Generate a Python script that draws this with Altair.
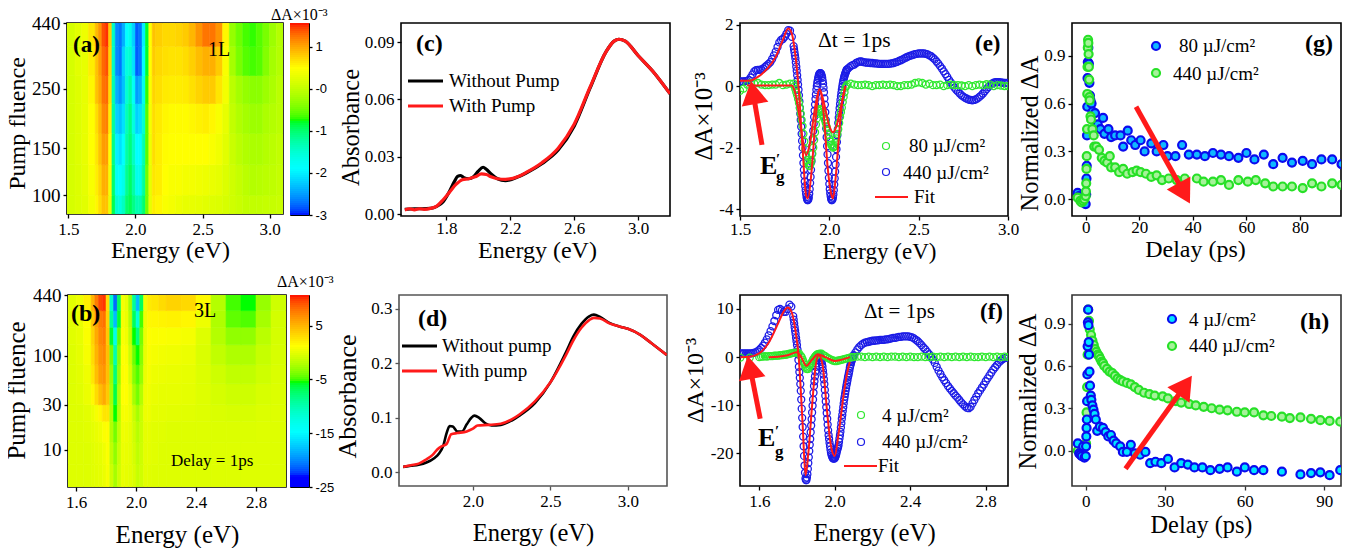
import altair as alt
import numpy as np
import pandas as pd

SERIF = "Liberation Serif"
SANS = "Liberation Sans"
RED = "#ff1a1a"
BLUE = "#1c1ce6"
GREEN = "#2fe82f"

# ---------- (a) heat map ----------
a_E = [1.49,1.55,1.6,1.65,1.7,1.725,1.75,1.775,1.8,1.825,1.85,1.875,1.9,1.925,1.95,1.975,2.0,2.025,2.05,2.075,2.1,2.125,2.15,2.2,2.25,2.3,2.35,2.4,2.45,2.5,2.55,2.6,2.65,2.7,2.75,2.8,2.85,2.9,2.95,3.0,3.05,3.1]
a_F = [85,100,130,170,220,280,360,440]
a_Z = [
 [.15,.2,.25,.4,.55,.7,.85,.85,.3,-.9,-1.5,-1.6,-1.4,-1.0,-.9,-1.1,-1.3,-1.3,-1.0,-.5,.3,.6,.55,.45,.4,.35,.3,.3,.28,.25,.22,.2,.15,.1,.05,0,0,0,.02,.03,.05],
 [.15,.2,.28,.45,.6,.75,.95,.95,.4,-1.0,-1.8,-1.9,-1.7,-1.15,-.95,-1.25,-1.7,-1.7,-1.2,-.5,.3,.65,.6,.5,.45,.45,.4,.4,.38,.35,.32,.28,.2,.1,.02,-.05,-.1,-.08,-.05,-.02,.02],
 [.15,.22,.3,.5,.65,.85,1.05,1.05,.5,-1.1,-2.0,-2.1,-1.9,-1.25,-1.05,-1.4,-1.9,-1.9,-1.3,-.6,.35,.7,.6,.52,.5,.5,.5,.5,.5,.5,.45,.38,.25,.05,-.05,-.12,-.15,-.15,-.1,-.05,0],
 [.15,.22,.3,.5,.7,.9,1.15,1.2,.6,-1.2,-2.2,-2.3,-2.1,-1.35,-1.1,-1.6,-2.2,-2.1,-1.5,-.6,.4,.7,.62,.55,.52,.52,.52,.55,.58,.6,.55,.45,.3,.0,-.12,-.2,-.25,-.25,-.15,-.1,-.05],
 [.15,.22,.3,.55,.85,1.0,1.25,1.3,.7,-1.3,-2.4,-2.55,-2.3,-1.5,-1.25,-1.8,-2.5,-2.4,-1.7,-.7,.45,.75,.68,.62,.6,.6,.62,.68,.75,.8,.8,.65,.4,-.05,-.2,-.3,-.35,-.35,-.25,-.15,-.05],
 [.15,.25,.3,.6,.85,1.05,1.3,1.4,.75,-1.4,-2.6,-2.7,-2.2,-1.6,-1.5,-2.1,-2.8,-2.7,-1.9,-.8,.5,.8,.72,.68,.66,.66,.7,.78,.88,.95,.95,.8,.45,-.2,-.45,-.6,-.65,-.6,-.4,-.2,-.1],
 [.15,.25,.35,.65,.9,1.1,1.4,1.5,.8,-1.4,-2.6,-2.7,-2.4,-1.9,-1.7,-2.2,-2.8,-2.7,-2.0,-.8,.5,.85,.78,.72,.72,.75,.8,.92,1.1,1.25,1.25,1.1,.55,-.3,-.5,-.65,-.7,-.6,-.45,-.25,-.1],
]
a_ramp_d = [-3,-1.9,-.75,.5,1.57]
a_ramp_c = ["#0000ff","#00ffff","#00ff00","#ffff00","#ff0000"]

# ---------- (b) heat map ----------
b_E = [1.546,1.6,1.65,1.7,1.725,1.75,1.775,1.8,1.825,1.85,1.875,1.9,1.925,1.95,1.975,2.0,2.025,2.05,2.075,2.1,2.15,2.2,2.3,2.4,2.5,2.6,2.7,2.8,2.9,3.0]
b_F = [4,7,12,20,30,50,80,130,200,300,440]
b_Z = [
 [-.3,-.3,-.3,-.2,-.1,0,.3,.8,-1,-2.5,-1,.2,.1,-.1,-.5,-1.3,-.9,-.1,-.2,-.3,-.3,-.3,-.3,-.3,-.3,-.3,-.3,-.3,-.3],
 [-.3,-.3,-.3,-.2,0,.1,.5,1,-1.5,-3.2,-1.2,.3,.2,0,-.7,-1.6,-1,0,.0,-.2,-.3,-.3,-.3,-.3,-.3,-.3,-.3,-.3,-.3],
 [-.3,-.3,-.2,0,.2,.5,1,1.3,-2,-4,-1.5,.5,.4,.1,-.9,-1.9,-1.1,.1,.1,-.2,-.2,-.3,-.3,-.3,-.4,-.4,-.4,-.3,-.3],
 [-.3,-.3,-.1,.3,.8,1.5,2.5,2.5,-2,-5.5,-2,.8,.8,.4,-1.2,-2.5,-1.2,.4,.4,0,0,-.1,-.2,-.3,-.5,-.6,-.6,-.4,-.3],
 [-.3,-.2,.3,1.5,3,4.5,5.5,4,-2.5,-6.5,-2.2,1.2,1.2,.3,-2.5,-4,-2,.5,.6,.2,.1,.1,0,-.3,-.7,-1,-1,-.6,-.4],
 [-.3,-.1,.5,2.5,4.5,6,6.5,4.5,-3,-8,-3,1.3,1.2,-.5,-3.5,-4.8,-3,.3,.8,.4,.3,.2,.1,-.4,-1,-1.5,-1.5,-1,-.5],
 [-.3,0,.8,3,5,6.5,7,4.5,-4,-10,-3.5,1.2,1,-1,-4.2,-5.5,-3.5,.2,1,.7,.6,.5,.3,-.5,-1.5,-2.2,-2.2,-1.3,-.6],
 [-.2,.1,1,3.5,5.5,7,7.5,4,-6,-13,-4.5,1,.6,-1.5,-5.5,-8,-4,.2,1.2,1,1,.9,.7,-.3,-2,-3.2,-3.2,-1.8,-.7],
 [-.2,.2,1.2,4,6,7.5,8,3.5,-9,-18,-6,.8,.3,-2,-7,-12,-5,.4,1.5,1.6,1.8,1.9,1.6,.4,-2.2,-4.5,-4.8,-2.5,-.8],
 [-.1,.4,2,5,7.5,9.5,10,3,-11,-21,-7,.8,.2,-2.5,-9,-18,-7,.6,2.2,2.5,3,3.5,3.2,1.5,-2,-5,-5.5,-3,-1],
]
b_ramp_d = [-25,-23,-14.8,-5.5,1.2,10.7]
b_ramp_c = ["#0000ff","#0000ff","#00ffff","#00ff00","#ffff00","#ff0000"]

# ---------- (c) ----------
c_E_k = [1.54,1.6,1.65,1.7,1.74,1.78,1.82,1.85,1.87,1.89,1.91,1.94,1.97,2.0,2.03,2.05,2.08,2.12,2.17,2.25,2.3,2.4,2.5,2.6,2.7,2.8,2.85,2.88,2.92,3.0,3.1,3.2]
c_A_k = [.0025,.0028,.0028,.003,.004,.0065,.012,.017,.0197,.0202,.019,.0185,.0195,.0225,.0245,.0235,.021,.0185,.0175,.0195,.0215,.0265,.0335,.046,.066,.085,.0905,.0915,.0905,.083,.074,.063]
c_E_r = [1.54,1.57,1.6,1.63,1.66,1.7,1.74,1.78,1.82,1.86,1.9,1.94,1.98,2.02,2.05,2.08,2.12,2.17,2.25,2.3,2.4,2.5,2.6,2.7,2.8,2.85,2.88,2.92,3.0,3.1,3.2]
c_A_r = [.0022,.0028,.0022,.0028,.0025,.003,.0042,.0075,.0115,.0155,.018,.0185,.0195,.021,.0207,.0195,.0185,.0182,.0197,.0218,.027,.0345,.047,.0665,.085,.0905,.0915,.0905,.083,.074,.063]

# ---------- (d) ----------
d_E_k = [1.55,1.6,1.65,1.7,1.75,1.78,1.81,1.83,1.85,1.87,1.9,1.93,1.96,1.99,2.01,2.04,2.08,2.12,2.18,2.25,2.3,2.4,2.5,2.6,2.65,2.7,2.75,2.78,2.82,2.88,2.95,3.0,3.08,3.15,3.25]
d_A_k = [.01,.012,.014,.018,.026,.034,.05,.072,.085,.084,.075,.075,.088,.1,.104,.1,.09,.086,.087,.095,.104,.127,.165,.22,.25,.272,.286,.289,.285,.274,.267,.263,.252,.237,.215]
d_E_r = [1.55,1.6,1.65,1.7,1.74,1.77,1.8,1.83,1.86,1.9,1.96,2.0,2.03,2.1,2.18,2.25,2.3,2.4,2.5,2.6,2.65,2.7,2.75,2.78,2.82,2.88,2.95,3.0,3.08,3.15,3.25]
d_A_r = [.01,.013,.016,.024,.032,.042,.048,.052,.07,.072,.075,.08,.086,.087,.089,.097,.106,.13,.165,.215,.243,.265,.279,.283,.282,.273,.267,.263,.252,.237,.215]

# ---------- (e) ----------
e_V_b1 = [.15,.15,.15,.16,.17,.2,.28,.38,.48,.52,
 .53,.53,.54,.57,.62,.67,.72,.78,.88,1.0,
 1.12,1.27,1.42,1.5,1.53,1.6,1.7,1.82,1.8,1.6]
e_V_b2 = [1.3,1.2,1.1,1.0,.9,.77,.63,.5,.35,.2,.05,-.12,-.3,-.5,-.7,-.9,-1.1,-1.32,-1.55,-1.78,
 -2.0,-2.25,-2.5,-2.72,-2.9,-3.1,-3.25,-3.38,-3.5,-3.6,-3.66,-3.7,-3.7,-3.68,-3.62,-3.5,-3.35,-3.15,-2.95,-2.72,
 -2.45,-2.2,-1.95,-1.7,-1.45,-1.22,-1.0,-.8,-.6,-.42,-.27,-.12,0,.1,.18,.26,.32,.37,.4,.42,
 .42,.41,.38,.33,.27,.18,.08,-.05,-.2,-.4,-.6,-.85,-1.1,-1.38,-1.66,-1.95,-2.22,-2.5,-2.75,-2.98,
 -3.18,-3.35,-3.48,-3.58,-3.66,-3.7,-3.7,-3.68,-3.62,-3.52,-3.38,-3.2,-3.0,-2.78,-2.55,-2.3,-2.05,-1.82,-1.6,-1.4,
 -1.2,-1.03,-.87,-.72,-.58,-.45,-.33,-.22,-.12,-.02,.07,.15,.22,.28,.33,.38,.42,.46,.5,.53,.55]
e_V_b3 = [.6,.65,.68,.7,.75,.78,.8,.8,.78,
 .77,.76,.76,.75,.75,.74,.74,.73,.72,.72,
 .72,.72,.72,.72,.73,.74,.75,.77,.79,.82,
 .84,.87,.9,.93,.96,.98,1.0,1.02,1.04,1.05,
 1.06,1.06,1.06,1.06,1.05,1.03,1.0,.97,.92,.87,
 .8,.73,.65,.57,.48,.39,.3,.2,.12,.03,
 -.05,-.12,-.18,-.24,-.3,-.34,-.38,-.41,-.44,-.45,
 -.46,-.45,-.43,-.4,-.35,-.3,-.24,-.17,-.1,-.03,
 .03,.08,.11,.13,.13,.13,.12,.11,.1,.1,.1]
e_E_b = ([round(1.5 + .01 * i, 2) for i in range(len(e_V_b1))]
         + [round(1.8 + .0025 * i, 4) for i in range(len(e_V_b2))]
         + [round(2.11 + .01 * i, 2) for i in range(len(e_V_b3))])
e_V_b = e_V_b1 + e_V_b2 + e_V_b3
e_V_g1 = [-.15,-.08,.05,.1,.08,.1,.05,.03,.03,.05,.05,.1,.03,.05,.08]
e_V_g2 = [.08,.0,-.1,-.2,-.3,-.42,-.55,-.72,-.9,-1.1,-1.3,-1.55,-1.8,-2.05,-2.25,-2.4,-2.5,-2.58,-2.6,-2.52,-2.4,-2.2,-2.0,-1.75,-1.5,-1.25,-1.05,-.9,-.8,-.75,-.75,-.78,-.85,-.92,-1.0,-1.1,-1.2,-1.32,-1.45,-1.58,-1.7,-1.8,-1.9,-1.95,-2.0,-1.98,-1.95,-1.85,-1.7,-1.55,-1.4,-1.2,-1.0,-.85,-.7,-.52,-.35,-.2,-.05,.0,.05]
e_V_g3 = [.08,.05,.03,.03,.05,.03,.0,.03,.03,.05,.03,.05,.03,.0,.0,.03,.03,.05,.1,.12,.1,.05,.08,.03,.03,.05,.0,.03,.05,.03,.03,.02,.0,.03,.0,.03,.05,.03,.06,.05,.0,.03,.02,.0,.0]
e_E_g = ([round(1.5 + .02 * i, 2) for i in range(len(e_V_g1))]
         + [round(1.8 + .005 * i, 3) for i in range(len(e_V_g2))]
         + [round(2.12 + .02 * i, 2) for i in range(len(e_V_g3))])
e_V_g = e_V_g1 + e_V_g2 + e_V_g3
e_E_f1 = [1.5,1.55,1.6,1.65,1.7,1.74,1.77,1.79,1.81,1.83,1.85,1.87,1.88,1.9,1.92,1.945,1.97,1.99,2.01,2.02,2.035,2.05,2.07,2.09]
e_V_f1 = [.17,.17,.3,.55,.95,1.5,1.87,1.7,1.0,-.2,-2.0,-3.55,-3.65,-2.8,-1.3,-.1,-1.0,-2.6,-3.5,-3.65,-3.0,-1.9,-.6,.0]
e_E_f2 = [1.54,1.6,1.7,1.79,1.81,1.83,1.85,1.87,1.89,1.92,1.945,1.97,2.0,2.02,2.04,2.06,2.09]
e_V_f2 = [.02,.02,.02,.02,-.25,-.9,-1.7,-2.25,-1.9,-.7,-.1,-.55,-1.3,-1.5,-1.3,-.8,.0]

# ---------- (f) ----------
f_V_b1 = [.8,.8,.8,.8,.8,.8,.8,.9,1.0,1.2,
 1.5,1.9,2.4,3.0,3.7,4.5,5.4,6.4,7.5,8.7,
 9.8,10,9.7,9.4,9.4,10,10.9,10.5]
f_V_b2 = [8.5,7.8,7.0,6.2,5.5,4.8,4.0,3.3,2.5,1.6,.6,-.6,-2,-3.1,-4.3,-5.6,-7,-8.8,-10.7,-12.6,
 -14.5,-16.5,-18.5,-20.5,-22.5,-24,-25.2,-25.5,-25.5,-25,-24.3,-23.2,-22,-20.8,-19.5,-18.2,-17,-15.6,-14.2,-12.9,
 -11.5,-10.1,-8.8,-7.4,-6,-5,-4,-3,-2,-1.3,-.6,-.1,.3,.45,.5,.5,.3,.1,-.2,-.6,
 -1,-1.5,-2,-2.8,-3.6,-4.6,-5.6,-6.8,-8,-9.2,-10.4,-11.6,-12.8,-14,-15.2,-16.2,-17,-17.8,-18.5,-19.2,
 -19.8,-20.2,-20.5,-20.8,-21,-21,-21,-21,-21,-20.8,-20.5,-20.2,-19.8,-19.4,-19,-18.7,-18.3,-17.6,-16.9,-16.2,
 -15.5,-14.6,-13.7,-12.8,-12,-11.2,-10.4,-9.6,-8.8,-8.2,-7.6,-7,-6.4,-5.8,-5.3,-4.8,-4.2,-3.8,-3.3,-2.8,
 -2.2,-1.8,-1.4,-1,-.7,-.4,-.1,.2,.4]
f_V_b3 = [1,1.6,2.1,2.5,2.8,3,3.1,3.2,3.3,
 3.4,3.4,3.5,3.5,3.6,3.6,3.6,3.7,3.7,3.8,
 3.9,4,4,4.1,4.2,4.2,4.3,4.3,4.3,4.3,
 4.2,4.1,3.9,3.6,3.3,2.9,2.5,2,1.6,1.1,
 .6,.1,-.5,-1.2,-2,-2.8,-3.5,-4.2,-4.8,-5.4,
 -6,-6.5,-7,-7.5,-8,-8.4,-8.9,-9.4,-9.8,-10.2,
 -10.5,-10.6,-10.3,-9.6,-8.9,-8.2,-7.5,-6.9,-6.3,-5.7,
 -5,-4.4,-3.8,-3.2,-2.6,-2.1,-1.6,-1.1,-.7,-.4,
 -.2,-.1,-.1]
f_E_b = ([round(1.5 + .01 * i, 2) for i in range(len(f_V_b1))]
         + [round(1.78 + .0025 * i, 4) for i in range(len(f_V_b2))]
         + [round(2.11 + .01 * i, 2) for i in range(len(f_V_b3))])
f_V_b = f_V_b1 + f_V_b2 + f_V_b3
f_E_g = [1.5,1.55,1.6,1.61,1.62,1.63,1.64,1.65,1.66,1.67,1.68,1.69,1.7,1.71,1.72,1.73,1.74,1.75,1.76,1.77,1.78,1.79,1.8,1.81,1.82,1.825,1.83,1.835,1.84,1.845,1.85,1.855,1.86,1.865,1.87,1.875,1.88,1.885,1.89,1.895,1.9,1.905,1.91,1.92,1.93,1.94,1.95,1.96,1.97,1.98,1.99,2.0,2.01,2.02,2.03,2.04,2.05,2.06,2.07,2.08,2.09,2.1,2.12,2.14,2.16,2.18,2.2,2.22,2.24,2.26,2.28,2.3,2.32,2.34,2.36,2.38,2.4,2.42,2.44,2.46,2.48,2.5,2.52,2.54,2.56,2.58,2.6,2.62,2.64,2.66,2.68,2.7,2.72,2.74,2.76,2.78,2.8,2.82,2.84,2.86,2.88,2.9,2.92]
f_V_g = [-.1,-.1,0,.1,.1,.2,.1,.2,.2,.2,.3,.3,.3,.4,.4,.5,.5,.6,.7,.8,.9,.9,1.0,.8,.3,0,-.5,-1,-1.5,-2,-2.4,-2.5,-2.4,-2,-1.7,-1.3,-.9,-.5,-.2,.1,.3,.5,.6,.7,.7,.4,.2,-.1,-.3,-.5,-.7,-.8,-.8,-.7,-.6,-.5,-.4,-.3,-.2,-.1,0,0,.1,.1,0,.1,0,.1,0,.1,0,.1,.1,0,.1,0,.1,0,0,.1,0,0,.1,0,.1,0,.1,0,.1,0,.1,0,.1,0,0,.1,0,.1,0,.1,0,.1,0]
f_E_f1 = [1.5,1.55,1.6,1.65,1.7,1.73,1.75,1.77,1.79,1.81,1.83,1.845,1.86,1.88,1.9,1.915,1.935,1.96,1.98,2.0,2.02,2.05,2.07,2.08]
f_V_f1 = [0,.1,.8,3,7,9.5,10.3,9.5,6,-.5,-14,-24.5,-20,-10,-1.5,.4,-1.5,-11.5,-18.5,-20.5,-16,-7,-2.5,-1]
f_E_f2 = [1.65,1.7,1.75,1.8,1.82,1.85,1.88,1.91,1.95,2.0,2.03,2.08]
f_V_f2 = [0,.1,.4,1,.2,-1.8,-.5,.6,0,-.8,-.6,0]

# ---------- (g) ----------
g_T_b = [-3,-2.5,-2,-1.5,-1,-.5,0,.2,.3,.4,.5,.6,.7,.8,1.0,1.2,1.4,1.6,1.8,2.2,2.6,3.5,4.5,5.5,6.5,7,8.5,9.5,11,13,14,15.7,17,18.5,20.5,22,24.5,26.5,29,30.5,33.5,36,38.5,41.5,44.5,47.5,50.5,53.5,57,60,63,66.5,70,73.5,77,81,84.5,88,92,95.5]
g_V_b = [.04,.02,0,-.01,-.02,-.02,-.03,.03,.13,.21,.40,.58,.76,.86,.95,.85,.73,.65,.62,.6,.55,.54,.47,.44,.51,.41,.44,.39,.40,.40,.33,.43,.37,.34,.37,.30,.35,.30,.34,.27,.27,.34,.28,.28,.27,.29,.28,.27,.26,.29,.25,.28,.22,.26,.23,.24,.22,.25,.25,.22]
g_T_g = [-3,-2,-1.5,-1,-.5,0,.1,.2,.3,.4,.5,.6,.7,.8,.9,1.0,1.1,1.2,1.3,1.4,1.5,1.8,2,2.5,3,3.2,4,5,6,7,8,9,9.5,11,12.5,14,15.5,17.5,19,20.5,22.5,24.5,26.5,28.5,31,34,37,41.5,44,47.5,50.5,53.5,57,60.5,63.5,67,70,73.5,77,81,84.5,88,92,95.5]
g_V_g = [.01,-.01,-.02,-.01,0,.02,.05,.10,.19,.27,.44,.66,.83,.95,1.0,.98,.91,.83,.75,.64,.62,.52,.5,.44,.40,.33,.33,.31,.26,.24,.23,.27,.2,.2,.17,.19,.16,.17,.18,.17,.16,.14,.15,.12,.13,.12,.13,.13,.11,.11,.12,.09,.12,.11,.12,.10,.08,.08,.08,.07,.1,.08,.1,.09]

# ---------- (h) ----------
h_T_b = [-3,-2.5,-2,-1.5,-1,-.5,0,.1,.2,.3,.4,.5,.6,.7,.8,.9,1.0,1.1,1.2,1.4,1.6,1.9,2.1,2.5,2.9,3.3,3.8,4.3,5.3,6.5,7.5,8.5,9.5,10.5,11.5,13,14,15.5,17,18.5,20.5,22.5,24.3,26.3,28.5,31,33.5,36,38.5,41,44,47,50.5,53.5,57,60,63.5,67,74,81,85,88.5,92,96]
h_V_b = [.05,-.02,-.03,-.04,.03,-.05,-.04,.03,.1,.16,.22,.35,.54,.74,.91,1.0,.89,.77,.68,.56,.46,.39,.36,.32,.29,.26,.22,.14,.17,.16,.13,.1,.11,.07,.05,.03,-.01,-.01,.04,-.02,-.03,-.01,-.09,-.08,-.09,-.06,-.12,-.09,-.10,-.12,-.12,-.14,-.13,-.12,-.15,-.12,-.14,-.14,-.15,-.17,-.16,-.155,-.175,-.14]
h_T_g = [-3,-1.5,0,.1,.3,.5,.7,.9,1.2,1.5,2,2.5,3,3.5,4,4.5,5,5.5,6,6.5,7,8,9,10,11,12,13,14,15.5,17,18.5,20,22,24,26,29,31,34,36,39,41.5,44.5,47.5,50.5,53.5,57,60,63.5,67,70,74,77,81,85,88.5,92,96]
h_V_g = [0,0,.03,.05,.27,.45,.68,1.0,.92,.86,.82,.78,.75,.72,.7,.68,.67,.65,.63,.62,.6,.58,.56,.55,.53,.51,.5,.49,.48,.47,.45,.43,.41,.4,.39,.385,.37,.35,.34,.33,.32,.31,.30,.29,.285,.275,.27,.27,.25,.245,.24,.23,.235,.225,.215,.21,.205]

# ---------- arrows: tail, head centre (data units) ----------
e_arrow = [1.623, -1.91, 1.573, -.21]
f_arrow = [1.605, -12.8, 1.551, -2.1]
g_arrow = [18.8, .58, 36.8, .038]
h_arrow = [15, -.13, 37.5, .462]

DUMMY = pd.DataFrame({"k": [0]})


class P:
    def __init__(self, x0, y0, w, h, xdom, ydom, xvals, yvals, xtitle, ytitle,
                 xtx, xty, ytx, yty, xsize, ysize, xfmt=".1f", yfmt=".1f", ylog=False,
                 ylabel=17, color="black", yexpr=None, xpad=3):
        self.x0, self.y0, self.w, self.h = x0, y0, w, h
        common = dict(grid=False, domain=False, tickColor=color, tickWidth=1.3, tickSize=4,
                      labelFont=SERIF, labelColor="black", titleFont=SERIF, titleColor="black",
                      titleFontWeight="normal", titleBaseline="alphabetic",
                      titleAlign="center")
        xa = alt.Axis(values=xvals, format=xfmt, title=xtitle, labelFontSize=17, titleFontSize=xsize,
                      titleX=xtx - x0, titleY=xty - (y0 + h), titleAngle=0, labelFlush=False,
                      labelOverlap=False, labelPadding=xpad, **common)
        yk = dict(values=yvals, title=ytitle, labelFontSize=ylabel, titleFontSize=ysize, labelPadding=3,
                  titleX=ytx - x0, titleY=yty - y0, titleAngle=270, labelOverlap=False, **common)
        if yexpr:
            yk["labelExpr"] = yexpr
        else:
            yk["format"] = yfmt
        ya = alt.Axis(**yk)
        ys = alt.Scale(type="log", domain=ydom, nice=False) if ylog else alt.Scale(domain=ydom, nice=False, zero=False)
        self.X = alt.X("x:Q", scale=alt.Scale(domain=xdom, nice=False, zero=False), axis=xa)
        self.Y = alt.Y("y:Q", scale=ys, axis=ya)
        self.border = color

    def txt(self, x, y, s, size=19, weight="normal", angle=None, font=SERIF):
        kw = {} if angle is None else {"angle": angle}
        return alt.Chart(DUMMY).mark_text(text=s, font=font, fontSize=size, fontWeight=weight, color="black",
                                          align="left", baseline="alphabetic", **kw).encode(
            x=alt.value(x - self.x0), y=alt.value(y - self.y0))

    def swatch_line(self, x1, x2, y, color, width=3):
        return alt.Chart(DUMMY).mark_rule(color=color, strokeWidth=width).encode(
            x=alt.value(x1 - self.x0), x2=alt.value(x2 - self.x0), y=alt.value(y - self.y0))

    def swatch_pt(self, x, y, stroke, fill=None, size=49, sw=1.2):
        kw = dict(shape="circle", stroke=stroke, strokeWidth=sw, size=size, opacity=1)
        if fill:
            kw.update(filled=True, fill=fill, fillOpacity=1, strokeOpacity=1)
        else:
            kw.update(filled=False)
        return alt.Chart(DUMMY).mark_point(**kw).encode(x=alt.value(x - self.x0), y=alt.value(y - self.y0))

    def line(self, xs, ys, color, width=3):
        return alt.Chart(pd.DataFrame({"x": xs, "y": ys})).mark_line(
            color=color, strokeWidth=width, interpolate="monotone", clip=True).encode(x=self.X, y=self.Y)

    def open_pts(self, xs, ys, color, size=49, sw=1.3):
        return alt.Chart(pd.DataFrame({"x": xs, "y": ys})).mark_point(
            shape="circle", filled=False, stroke=color, strokeWidth=sw, size=size, opacity=1, clip=True
        ).encode(x=self.X, y=self.Y)

    def fill_pts(self, xs, ys, stroke, fill, size=64, sw=2.2):
        return alt.Chart(pd.DataFrame({"x": xs, "y": ys})).mark_point(
            shape="circle", filled=True, fill=fill, stroke=stroke, strokeWidth=sw, size=size,
            fillOpacity=1, strokeOpacity=1, opacity=1, clip=True
        ).encode(x=self.X, y=self.Y)

    def arrow(self, a, angle, width=5, size=729):
        shaft = alt.Chart(pd.DataFrame({"x": [a[0]], "y": [a[1]], "x2": [a[2]], "y2": [a[3]]})).mark_rule(
            color=RED, strokeWidth=width).encode(x=self.X, y=self.Y, x2="x2:Q", y2="y2:Q")
        head = alt.Chart(pd.DataFrame({"x": [a[2]], "y": [a[3]]})).mark_point(
            shape="triangle-up", filled=True, fill=RED, stroke=RED, strokeWidth=0, size=size, angle=angle,
            fillOpacity=1, opacity=1).encode(x=self.X, y=self.Y)
        return shaft + head

    def done(self, *layers):
        return alt.layer(*layers).properties(
            width=self.w, height=self.h,
            view=alt.ViewConfig(stroke=self.border, strokeWidth=1.6))


def heat(p, E, F, Z, dom, rng):
    rows = []
    for j, row in enumerate(Z):
        for i, v in enumerate(row):
            rows.append({"x": E[i], "x2": E[i + 1], "y": F[j], "y2": F[j + 1], "z": v})
    s = alt.Scale(domain=dom, range=rng, clamp=True)
    return alt.Chart(pd.DataFrame(rows)).mark_rect(strokeWidth=.6, clip=True).encode(
        x=p.X, x2="x2:Q", y=p.Y, y2="y2:Q",
        color=alt.Color("z:Q", scale=s, legend=None),
        stroke=alt.Stroke("z:Q", scale=s, legend=None))


def colorbar(x0, y0, w, h, dom, rng, lo, hi, ticks, expr):
    lev = np.linspace(lo, hi, h // 2 + 1)
    df = pd.DataFrame({"y": lev[:-1], "y2": lev[1:], "z": (lev[:-1] + lev[1:]) / 2})
    s = alt.Scale(domain=dom, range=rng, clamp=True)
    ya = alt.Axis(orient="right", values=ticks, labelExpr=expr, title=None, grid=False, domain=False,
                  tickColor="black", tickSize=3, tickWidth=1.3, labelFont=SANS, labelFontSize=13,
                  labelColor="black", labelPadding=3, labelOverlap=False)
    return alt.Chart(df).mark_rect().encode(
        x=alt.value(0), x2=alt.value(w),
        y=alt.Y("y:Q", scale=alt.Scale(domain=[lo, hi], nice=False, zero=False), axis=ya), y2="y2:Q",
        color=alt.Color("z:Q", scale=s, legend=None)
    ).properties(width=w, height=h, view=alt.ViewConfig(stroke="black", strokeWidth=1))


def sp(w):
    return alt.Chart(DUMMY).mark_point(opacity=0).encode(x=alt.value(0), y=alt.value(0)).properties(
        width=w, height=1, view=alt.ViewConfig(stroke="transparent"))


GR_F = "#a6f29a"
GR_S = "#27e027"
BL_S = "#0b0bee"

# ----- panel a -----
pa = P(68, 24, 216, 191, [1.49, 3.1], [85, 440], [1.5, 2, 2.5, 3], [100, 150, 250, 440],
       "Energy (eV)", "Pump fluence", 171, 258, 25, 124, 24, 24, yfmt="d", ylog=True, ylabel=19)
A = pa.done(heat(pa, a_E, a_F, a_Z, a_ramp_d, a_ramp_c),
            pa.txt(74, 53, "(a)", 23, "bold"), pa.txt(209, 57, "1L", 20))
CA = colorbar(291, 24, 19, 192, a_ramp_d, a_ramp_c, -3, 1.57, [-3, -2, -1, 0, 1],
              "datum.value === 0 ? '-0' : '' + datum.value")
CA = alt.layer(CA, alt.Chart(DUMMY).mark_text(text="ΔA×10⁻³", font=SERIF, fontSize=16, align="left", baseline="alphabetic", color="black").encode(
    x=alt.value(272 - 291), y=alt.value(21 - 24))).properties(width=19, height=192, view=alt.ViewConfig(stroke="black", strokeWidth=1))

# ----- panel b -----
pb = P(69, 296, 218, 192, [1.546, 3.0], [4, 440], [1.6, 2, 2.4, 2.8], [10, 30, 100, 440],
       "Energy (eV)", "Pump fluence", 178, 543, 25, 391, 25, 25, yfmt="d", ylog=True, ylabel=19)
B = pb.done(heat(pb, b_E, b_F, b_Z, b_ramp_d, b_ramp_c),
            pb.txt(72, 322, "(b)", 24, "bold"), pb.txt(195, 318, "3L", 20), pb.txt(172, 467, "Delay = 1ps", 17))
CB = colorbar(291, 296, 19, 192, b_ramp_d, b_ramp_c, -25, 10.7, [-25, -15, -5, 5], "'' + datum.value")
CB = alt.layer(CB, alt.Chart(DUMMY).mark_text(text="ΔA×10⁻³", font=SERIF, fontSize=16, align="left", baseline="alphabetic", color="black").encode(
    x=alt.value(278 - 291), y=alt.value(288 - 296))).properties(width=19, height=192, view=alt.ViewConfig(stroke="black", strokeWidth=1))

# ----- panel c -----
pc = P(402, 24, 269, 193, [1.516, 3.2], [-.001, .1], [1.8, 2.2, 2.6, 3.0], [0, .03, .06, .09],
       "Energy (eV)", "Absorbance", 538, 258, 359, 128, 24, 24.5, yfmt=".2f", xpad=0)
C = pc.done(pc.line(c_E_k, c_A_k, "black", 3.2), pc.line(c_E_r, c_A_r, RED, 3.2),
            pc.txt(417, 52, "(c)", 24, "bold"),
            pc.swatch_line(409, 444, 82, "black"), pc.swatch_line(409, 444, 107, RED),
            pc.txt(450, 88, "Without Pump"), pc.txt(450, 113, "With Pump"))

# ----- panel d -----
pd_ = P(400, 296, 268, 191, [1.523, 3.252], [-.025, .325], [2, 2.5, 3], [0, .1, .2, .3],
        "Energy (eV)", "Absorbance", 534, 541, 356, 397, 24.5, 26, color="#555555")
D = pd_.done(pd_.line(d_E_k, d_A_k, "black", 2.6), pd_.line(d_E_r, d_A_r, RED, 2.6),
             pd_.txt(419, 327, "(d)", 24, "bold"),
             pd_.swatch_line(403, 438, 347, "black"), pd_.swatch_line(403, 438, 372, RED),
             pd_.txt(443, 353, "Without pump"), pd_.txt(443, 378, "With pump"))

# ----- panel e -----
pe = P(741, 24, 268, 193, [1.5, 3.0], [-4.22, 2.05], [1.5, 2, 2.5, 3], [-4, -2, 0, 2],
       "Energy (eV)", "ΔA×10⁻³", 880, 259, 712, 117, 23, 25, yexpr="'' + datum.value", ylabel=17, xpad=1)
E_ = pe.done(pe.open_pts(e_E_b, e_V_b, BLUE), pe.open_pts(e_E_g, e_V_g, GREEN),
             pe.line(e_E_f1, e_V_f1, RED, 2), pe.line(e_E_f2, e_V_f2, RED, 2),
             pe.arrow(e_arrow, 350),
             pe.txt(819, 48, "Δt = 1ps", 21.5), pe.txt(976, 52, "(e)", 23, "bold"),
             pe.swatch_pt(887, 147, GREEN), pe.swatch_pt(887, 173, BLUE), pe.swatch_line(876, 909, 198, RED, 2),
             pe.txt(910, 153, "80 µJ/cm²"), pe.txt(904, 180, "440 µJ/cm²"), pe.txt(915, 204, "Fit"),
             pe.txt(761, 175, "E", 26, "bold"), pe.txt(777, 183, "g", 17, "bold"), pe.txt(777, 165, "′", 15, "bold"))

# ----- panel f -----
pf = P(741, 296, 268, 191, [1.498, 2.918], [-26.75, 12.9], [1.6, 2, 2.4, 2.8], [-20, -10, 0, 10],
       "Energy (eV)", "ΔA×10⁻³", 875, 541, 703, 381, 24.7, 24, yexpr="'' + datum.value", ylabel=17)
F_ = pf.done(pf.open_pts(f_E_b, f_V_b, BLUE), pf.open_pts(f_E_g, f_V_g, GREEN),
             pf.line(f_E_f1, f_V_f1, RED, 2), pf.line(f_E_f2, f_V_f2, RED, 2),
             pf.arrow(f_arrow, 349),
             pf.txt(865, 319, "Δt = 1ps", 21), pf.txt(981, 320, "(f)", 23, "bold"),
             pf.swatch_pt(862, 416, GREEN), pf.swatch_pt(862, 443, BLUE), pf.swatch_line(845, 878, 467, RED, 2),
             pf.txt(883, 423, "4 µJ/cm²"), pf.txt(883, 449, "440 µJ/cm²"), pf.txt(879, 473, "Fit"),
             pf.txt(759, 447, "E", 26, "bold"), pf.txt(776, 458, "g", 17, "bold"), pf.txt(776, 437, "′", 15, "bold"))

# ----- panel g -----
pg = P(1073, 24, 269, 193, [-5.1, 95.3], [-.105, 1.105], [0, 20, 40, 60, 80], [0, .3, .6, .9],
       "Delay (ps)", "Normalized ΔA", 1196, 257, 1038, 134, 24, 24.6, xfmt="d", xpad=-1)
G = pg.done(pg.fill_pts(g_T_b, g_V_b, BL_S, "#10b8ff"), pg.fill_pts(g_T_g, g_V_g, GR_S, GR_F),
            pg.arrow(g_arrow, 151),
            pg.txt(1306, 52, "(g)", 24, "bold"),
            pg.swatch_pt(1157, 47, BL_S, "#10b8ff", 64, 2.2), pg.swatch_pt(1157, 74, GR_S, GR_F, 64, 2.2),
            pg.txt(1180, 53, "80 µJ/cm²"), pg.txt(1174, 81, "440 µJ/cm²"))

# ----- panel h -----
ph = P(1073, 296, 269, 191, [-5.2, 96.3], [-.252, 1.104], [0, 30, 60, 90], [0, .3, .6, .9],
       "Delay (ps)", "Normalized ΔA", 1202, 533, 1036, 392, 24.3, 24.6, xfmt="d", color="#333333")
H = ph.done(ph.fill_pts(h_T_g, h_V_g, GR_S, GR_F), ph.fill_pts(h_T_b, h_V_b, BL_S, "#00e4ff"),
            ph.arrow(h_arrow, 35),
            ph.txt(1301, 330, "(h)", 24, "bold"),
            ph.swatch_pt(1173, 320, BL_S, "#00e4ff", 64, 2.2), ph.swatch_pt(1173, 347, GR_S, GR_F, 64, 2.2),
            ph.txt(1190, 327, "4 µJ/cm²"), ph.txt(1190, 353, "440 µJ/cm²"))

row1 = alt.hconcat(sp(60), A, sp(7), CA, sp(92), C, sp(70), E_, sp(64), G, spacing=0, bounds="flush").resolve_scale(
    color="independent", stroke="independent")
row2 = alt.hconcat(sp(61), B, sp(4), CB, sp(90), D, sp(73), F_, sp(64), H, spacing=0, bounds="flush").resolve_scale(
    color="independent", stroke="independent")

chart = alt.vconcat(row1, row2, spacing=9).resolve_scale(color="independent", stroke="independent").properties(
    padding={"left": -5, "top": -2, "right": 0, "bottom": 0}
)

chart.save("out.html", embed_options={"renderer": "svg", "actions": False})
